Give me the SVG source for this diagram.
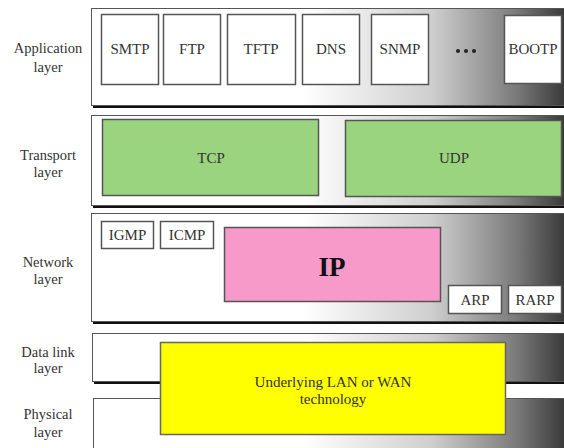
<svg xmlns="http://www.w3.org/2000/svg" width="564" height="448" viewBox="0 0 564 448">
<defs>
<linearGradient id="g" x1="91" y1="0" x2="564" y2="0" gradientUnits="userSpaceOnUse">
<stop offset="0" stop-color="#ffffff"/>
<stop offset="0.45" stop-color="#ffffff"/>
<stop offset="0.72" stop-color="#cfcfcf"/>
<stop offset="0.9" stop-color="#7a7a7a"/>
<stop offset="1" stop-color="#3a3a3a"/>
</linearGradient>
<style>
.band{fill:url(#g);stroke:#555;stroke-width:1}
.sh{fill:#111}
.box{fill:#fff;stroke:#555;stroke-width:1.5}
.lbl{font-family:"Liberation Serif",serif;font-size:14.5px;fill:#333;text-anchor:middle}
.t{font-family:"Liberation Serif",serif;font-size:15px;fill:#333;text-anchor:middle}
</style>
</defs>
<g id="application-layer">
<rect class="sh" x="93" y="10" width="473" height="98"/>
<rect class="band" x="91.5" y="8.5" width="473" height="97"/>
<text class="lbl" x="48" y="53">Application</text>
<text class="lbl" x="48" y="72">layer</text>
</g>
<g id="transport-layer">
<rect class="sh" x="93" y="117" width="473" height="91"/>
<rect class="band" x="91.5" y="115.5" width="473" height="90"/>
<text class="lbl" x="48" y="160">Transport</text>
<text class="lbl" x="48" y="177">layer</text>
</g>
<g id="network-layer">
<rect class="sh" x="93" y="215" width="473" height="109"/>
<rect class="band" x="91.5" y="213.5" width="473" height="108"/>
<text class="lbl" x="48" y="267">Network</text>
<text class="lbl" x="48" y="284">layer</text>
</g>
<g id="datalink-layer">
<rect class="sh" x="94" y="335" width="473" height="49"/>
<rect class="band" x="92.5" y="333.5" width="473" height="48"/>
<text class="lbl" x="48" y="357">Data link</text>
<text class="lbl" x="48" y="373">layer</text>
</g>
<g id="physical-layer">
<rect class="band" x="93.5" y="398.5" width="473" height="60"/>
<text class="lbl" x="48" y="419">Physical</text>
<text class="lbl" x="48" y="437">layer</text>
</g>
<g id="connectors"></g>
<g id="smtp"><rect class="box" x="101.5" y="14.5" width="57" height="70"/><text class="t" x="130" y="54">SMTP</text></g>
<g id="ftp"><rect class="box" x="163.5" y="14.5" width="57" height="70"/><text class="t" x="192" y="54">FTP</text></g>
<g id="tftp"><rect class="box" x="227.5" y="14.5" width="68" height="70"/><text class="t" x="261" y="54">TFTP</text></g>
<g id="dns"><rect class="box" x="302.5" y="14.5" width="57" height="70"/><text class="t" x="331" y="54">DNS</text></g>
<g id="snmp"><rect class="box" x="371.5" y="14.5" width="57" height="70"/><text class="t" x="400" y="54">SNMP</text></g>
<g id="dots"><circle cx="458" cy="51" r="2" fill="#222"/><circle cx="466" cy="51" r="2" fill="#222"/><circle cx="474" cy="51" r="2" fill="#222"/></g>
<g id="bootp"><rect class="box" x="504.5" y="15.5" width="57" height="68"/><text class="t" x="533" y="54">BOOTP</text></g>
<g id="tcp"><rect x="102.5" y="119.5" width="216" height="76" fill="#9ad47f" stroke="#555" stroke-width="1.5"/><text class="t" x="211" y="163">TCP</text></g>
<g id="udp"><rect x="345.5" y="120.5" width="216" height="76" fill="#9ad47f" stroke="#555" stroke-width="1.5"/><text class="t" x="454" y="163">UDP</text></g>
<g id="igmp"><rect class="box" x="101.5" y="221.5" width="52" height="27"/><text class="t" x="127.5" y="240">IGMP</text></g>
<g id="icmp"><rect class="box" x="160.5" y="221.5" width="53" height="27"/><text class="t" x="187" y="240">ICMP</text></g>
<g id="ip"><rect x="224.5" y="227.5" width="216" height="74" fill="#f799c9" stroke="#555" stroke-width="1.5"/><text x="332" y="276" font-family="Liberation Serif, serif" font-size="27" font-weight="bold" text-anchor="middle" fill="#111">IP</text></g>
<g id="arp"><rect class="box" x="448.5" y="285.5" width="53" height="28"/><text class="t" x="475" y="305">ARP</text></g>
<g id="rarp"><rect class="box" x="508.5" y="285.5" width="53" height="28"/><text class="t" x="535" y="305">RARP</text></g>
<g id="lan-wan"><rect x="160.5" y="342.5" width="345" height="92" fill="#ffff00" stroke="#666" stroke-width="1.5"/><text class="t" x="333" y="387">Underlying LAN or WAN</text><text class="t" x="333" y="404">technology</text></g>
</svg>
